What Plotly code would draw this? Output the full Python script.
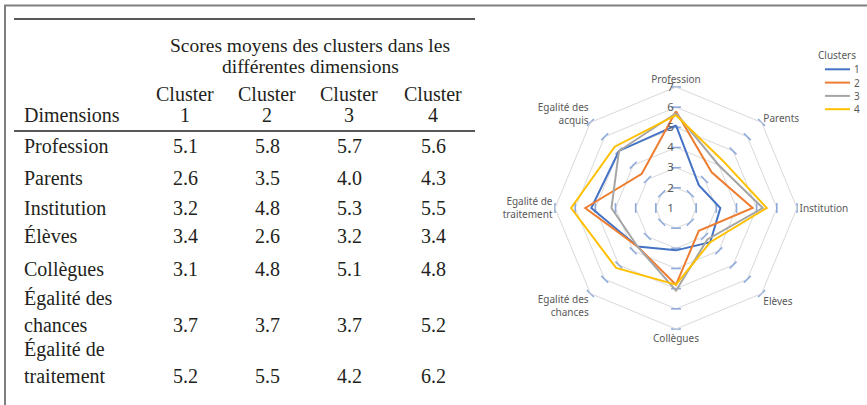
import plotly.graph_objects as go

# ---------------- data ----------------
table_header = "Scores moyens des clusters dans les\ndifférentes dimensions"
cluster_names = ["1", "2", "3", "4"]
table_dims = ["Profession", "Parents", "Institution", "Élèves", "Collègues",
              "Égalité des\nchances", "Égalité de\ntraitement"]
table_c1 = [5.1, 2.6, 3.2, 3.4, 3.1, 3.7, 5.2]
table_c2 = [5.8, 3.5, 4.8, 2.6, 4.8, 3.7, 5.5]
table_c3 = [5.7, 4.0, 5.3, 3.2, 5.1, 3.7, 4.2]
table_c4 = [5.6, 4.3, 5.5, 3.4, 4.8, 5.2, 6.2]

radar_axes = ["Profession", "Parents", "Institution", "Elèves", "Collègues",
              "Egalité des<br>chances", "Egalité de<br>traitement", "Egalité des<br>acquis"]
radar_c1 = [5.1, 2.6, 3.2, 3.4, 3.1, 3.7, 5.2, 5.0]
radar_c2 = [5.8, 3.5, 4.8, 2.6, 4.8, 3.7, 5.5, 3.4]
radar_c3 = [5.7, 4.0, 5.3, 3.2, 5.1, 3.7, 4.2, 5.0]
radar_c4 = [5.6, 4.3, 5.5, 3.4, 4.8, 5.2, 6.2, 5.3]
radial_ticks = [1, 2, 3, 4, 5, 6, 7]
legend_title = "Clusters"

# ---------------- layout constants ----------------
W, H = 867, 405
SERIF = "Liberation Serif, Times New Roman, serif"
SANS = "Noto Sans, Open Sans, sans-serif"
TXT = "#231f20"
GREY = "#595959"
colors = ["#4472c4", "#ed7d31", "#a5a5a5", "#ffc000"]

col_x = [185, 267, 349, 433]
row_base = [152.7, 185, 215, 243, 276, 332, 383]
body_gap = 27
header_base = [51.5, 72.5]
cluster_base = [101, 121.5]
dim_x = 22
FS = 20
mid_off = 6.6  # baseline -> middle of text box

cx, cy, R = 676, 208, 121

fig = go.Figure()

# radar tick dashes on each spoke
dash_r, dash_t, dash_a = [], [], []
for i, ax in enumerate(radar_axes):
    for v in radial_ticks[1:]:
        dash_r.append(v)
        dash_t.append(ax)
        dash_a.append(45 * i)
fig.add_trace(go.Scatterpolar(
    r=dash_r, theta=dash_t, mode="markers", showlegend=False, hoverinfo="skip",
    marker=dict(symbol="line-ew", size=7, angle=dash_a,
                line=dict(color="#8eaadb", width=1.6))))

for name, vals, col in zip(cluster_names, [radar_c1, radar_c2, radar_c3, radar_c4], colors):
    fig.add_trace(go.Scatterpolar(
        r=vals + vals[:1], theta=radar_axes + radar_axes[:1], mode="lines",
        name=name, showlegend=False, line=dict(color=col, width=2)))

ann = []
def txt(x, ybase, s, xanchor="center", size=FS):
    ann.append(dict(x=x, y=ybase - mid_off * size / FS, xref="x", yref="y", text=s,
                    showarrow=False, xanchor=xanchor, yanchor="middle",
                    font=dict(family=SERIF, size=size, color=TXT)))

for s, yb in zip(table_header.split("\n"), header_base):
    txt(310, yb, s, size=19.5)
for cn, x in zip(cluster_names, col_x):
    txt(x, cluster_base[0], "Cluster")
    txt(x, cluster_base[1], cn)
txt(dim_x, cluster_base[1], "Dimensions", "left")

for i, d in enumerate(table_dims):
    lines = d.split("\n")
    for k, ln in enumerate(lines):
        txt(dim_x, row_base[i] - body_gap * (len(lines) - 1 - k), ln, "left")
    for x, vals in zip(col_x, [table_c1, table_c2, table_c3, table_c4]):
        txt(x, row_base[i], f"{vals[i]:.1f}")

shapes = [
    dict(type="line", xref="x", yref="y", x0=4, x1=W, y0=5.5, y1=5.5, line=dict(color="#808080", width=2)),
    dict(type="line", xref="x", yref="y", x0=5, x1=5, y0=5, y1=H, line=dict(color="#808080", width=2)),
    dict(type="line", xref="x", yref="y", x0=14, x1=475, y0=19, y1=19, line=dict(color=TXT, width=1.3)),
    dict(type="line", xref="x", yref="y", x0=14, x1=475, y0=131, y1=131, line=dict(color=TXT, width=1.3)),
]

# legend (drawn manually to match compact spacing)
leg_x0, leg_x1, leg_y0, leg_dy = 825, 850, 69.3, 13.3
ann.append(dict(x=858, y=55, xref="x", yref="y", text=legend_title, showarrow=False,
                xanchor="right", yanchor="middle", font=dict(family=SANS, size=10, color=GREY)))
for k, (cn, col) in enumerate(zip(cluster_names, colors)):
    yy = leg_y0 + k * leg_dy
    shapes.append(dict(type="line", xref="x", yref="y", x0=leg_x0, x1=leg_x1, y0=yy, y1=yy,
                       line=dict(color=col, width=2)))
    ann.append(dict(x=852, y=yy, xref="x", yref="y", text=cn, showarrow=False,
                    xanchor="left", yanchor="middle", font=dict(family=SANS, size=10, color=GREY)))

fig.update_layout(
    width=W, height=H, margin=dict(l=0, r=0, t=0, b=0),
    paper_bgcolor="white", plot_bgcolor="rgba(0,0,0,0)",
    xaxis=dict(range=[0, W], visible=False, fixedrange=True),
    yaxis=dict(range=[H, 0], visible=False, fixedrange=True),
    annotations=ann, shapes=shapes,
    polar=dict(
        domain=dict(x=[(cx - R) / W, (cx + R) / W], y=[(H - cy - R) / H, (H - cy + R) / H]),
        bgcolor="rgba(0,0,0,0)",
        gridshape="linear",
        radialaxis=dict(range=[1, 7], tickvals=radial_ticks, angle=90, side="counterclockwise",
                        showline=False, ticks="", gridcolor="#d9d9d9", gridwidth=1,
                        tickfont=dict(family=SANS, size=11.5, color=GREY), tickangle=90),
        angularaxis=dict(direction="clockwise", rotation=90, showgrid=False, showline=True,
                         linecolor="#d9d9d9", linewidth=1, ticks="",
                         tickfont=dict(family=SANS, size=10, color=GREY)),
    ),
    showlegend=False,
)

fig.write_html("out.html", config={"displayModeBar": False},
               post_script="document.body.style.margin='0px';")
